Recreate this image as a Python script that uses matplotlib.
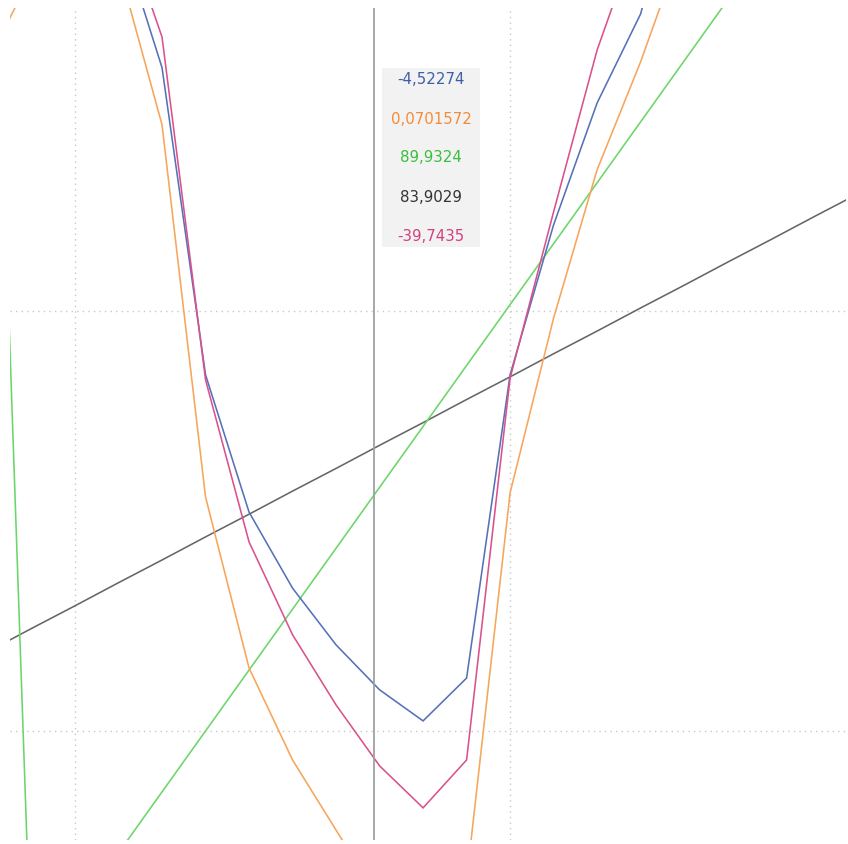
import matplotlib
matplotlib.use("Agg")
import matplotlib.pyplot as plt
from matplotlib.patches import Rectangle

# ---- data ----
x_vals = [-2, -1, 0, 1, 2, 3, 4, 5, 6, 7, 8, 9, 10, 11, 12, 13, 14, 15, 16, 17, 18]

blue = [None, None, None, 190.7, 157.9, 84.8, 52.1, 34.0, 20.5, 9.8, 2.4, 12.6,
        84.8, 120.5, 149.5, 170.7, 209.8, None, None, None, None]
pink = [None, None, None, 195.2, 165.2, 83.6, 45.0, 22.9, 6.2, -8.3, -18.3, -6.9,
        84.0, 123.6, 162.1, 191.4, None, None, None, None, None]
orange = [159.3, 180.0, 188.0, 182.1, 144.3, 55.7, 15.0, -6.9, -23.6, -40.2, -52.0,
          -35.5, 56.7, 98.3, 133.6, 159.3, 188.3, None, None, None, None]
green = [243.0, -58.0, -43.5, -29.0, -14.5, 0.0, 14.5, 29.0, 43.5, 58.0, 72.5, 87.0,
         101.5, 116.0, 130.5, 145.0, 159.5, 174.0, 188.5, None, None]
gray = [18.9, 24.4, 29.8, 35.3, 40.7, 46.2, 51.6, 57.1, 62.5, 68.0, 73.4, 78.9,
        84.3, 89.8, 95.2, 100.7, 106.1, 111.6, 117.0, 122.5, 127.9]

crosshair_x = 6.87
tooltip_values = ["-4,52274", "0,0701572", "89,9324", "83,9029", "-39,7435"]
tooltip_colors = ["#3d5fa8", "#f28c38", "#3cbf3c", "#333333", "#d2417f"]

series = [
    (gray, "#666666"),
    (green, "#6ad66a"),
    (orange, "#f7a55a"),
    (blue, "#5572b8"),
    (pink, "#d9528c"),
]

W, H = 848, 844
fig = plt.figure(figsize=(W / 100, H / 100), dpi=100)
fig.patch.set_facecolor("white")
ax = fig.add_axes([10 / W, 4 / H, 836 / W, 832 / H])
ax.set_facecolor("white")
for s in ax.spines.values():
    s.set_visible(False)

ax.set_xlim(-1.494, 17.72)
ax.set_ylim(-25.95, 172.1)
ax.set_xticks([0, 10])
ax.set_yticks([0, 100])
ax.tick_params(length=0, labelbottom=False, labelleft=False)
ax.grid(True, linestyle=(0, (1, 3)), color="#c8c8c8", linewidth=1.0)
ax.set_axisbelow(True)

for ys, col in series:
    xs = [x for x, y in zip(x_vals, ys) if y is not None]
    yy = [y for y in ys if y is not None]
    ax.plot(xs, yy, color=col, linewidth=1.15, solid_joinstyle="miter")

ax.axvline(crosshair_x, color="#a0a0a0", linewidth=1.3)

# tooltip box
fig.patches.append(Rectangle((382 / W, 1 - 247 / H), 98 / W, 179 / H,
                             transform=fig.transFigure, facecolor="#f2f2f2",
                             edgecolor="none", zorder=5))
row_y = [80, 119, 158, 198, 237]
for txt, col, py in zip(tooltip_values, tooltip_colors, row_y):
    fig.text(431 / W, 1 - py / H, txt, color=col, fontsize=10.8,
             ha="center", va="center", family="DejaVu Sans", zorder=6)

fig.savefig("out.png", dpi=100, facecolor="white")
